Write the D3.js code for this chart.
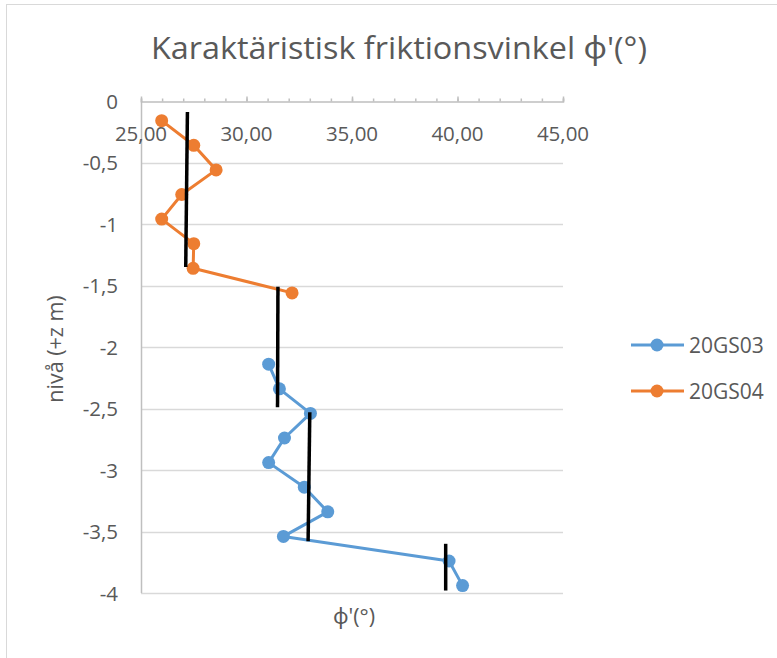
<!DOCTYPE html>
<html>
<head>
<meta charset="utf-8">
<script src="https://cdn.jsdelivr.net/npm/d3@7/dist/d3.min.js"></script>
<style>
  html, body { margin: 0; padding: 0; background: #fff; }
  svg { display: block; font-family: "Open Sans", "Noto Sans", sans-serif; }
</style>
</head>
<body>
<svg id="chart" width="777" height="658"></svg>
<script>
// ---- data ----
const title = "Karaktäristisk friktionsvinkel \u03D5'(°)";
const xTitle = "\u03D5'(°)";
const yTitle = "nivå (+z m)";
const seriesNames = ["20GS03", "20GS04"];
const seriesColors = ["#5B9BD5", "#ED7D31"];

const gs03Phi = [31.05, 31.56, 33.03, 31.80, 31.05, 32.74, 33.85, 31.75, 39.60, 40.24];
const gs03Level = [-2.14, -2.34, -2.54, -2.74, -2.94, -3.14, -3.34, -3.54, -3.74, -3.94];
const gs04Phi = [25.98, 27.50, 28.56, 26.93, 25.98, 27.50, 27.47, 32.16];
const gs04Level = [-0.16, -0.36, -0.56, -0.76, -0.96, -1.16, -1.36, -1.56];

// characteristic value lines (black)
const charPhiTop = [27.20, 31.49, 33.00, 39.44];
const charPhiBottom = [27.12, 31.47, 32.92, 39.44];
const charLevelTop = [-0.09, -1.51, -2.53, -3.60];
const charLevelBottom = [-1.35, -2.49, -3.58, -3.98];

const xTicksMajor = [25, 30, 35, 40, 45];
const xTicksMinor = d3.range(25, 46, 1);
const yTicks = [0, -0.5, -1, -1.5, -2, -2.5, -3, -3.5, -4];

// ---- layout ----
const svg = d3.select("#chart");
const textColor = "#595959";
const gridColor = "#D9D9D9";
const axisColor = "#BFBFBF";

const x = d3.scaleLinear().domain([25, 45]).range([141, 563]);
const y = d3.scaleLinear().domain([0, -4]).range([101, 593]);

const loc = d3.formatLocale({decimal: ",", thousands: " ", grouping: [3], currency: ["", ""], minus: "-"});
const fmtX = loc.format(".2f");
const fmtY = v => (v === 0 ? "0" : loc.format("")(v));

// chart border
svg.append("rect").attr("x", 6.5).attr("y", 4.5).attr("width", 800).attr("height", 700)
  .attr("fill", "none").attr("stroke", gridColor).attr("stroke-width", 1);

// title
svg.append("text").attr("x", 399).attr("y", 59).attr("text-anchor", "middle")
  .attr("font-size", 31).attr("fill", textColor)
  .attr("textLength", 496).attr("lengthAdjust", "spacingAndGlyphs")
  .text(title);

// horizontal gridlines
svg.append("g").selectAll("line").data(yTicks.filter(d => d !== 0)).join("line")
  .attr("x1", x(25)).attr("x2", x(45))
  .attr("y1", d => Math.round(y(d)) + 0.5).attr("y2", d => Math.round(y(d)) + 0.5)
  .attr("stroke", gridColor).attr("stroke-width", 1.5);

// y axis line
svg.append("line").attr("x1", 141.5).attr("x2", 141.5).attr("y1", y(0)).attr("y2", y(-4))
  .attr("stroke", axisColor).attr("stroke-width", 1.5);

// x axis (top) with minor and major ticks
const xAxisMinor = d3.axisTop(x).tickValues(xTicksMinor).tickSize(3).tickFormat("");
const gxMinor = svg.append("g").attr("transform", `translate(0,${Math.round(y(0)) + 0.5})`).call(xAxisMinor);
gxMinor.select(".domain").attr("stroke", axisColor).attr("stroke-width", 1.5);
gxMinor.selectAll(".tick line").attr("stroke", axisColor).attr("stroke-width", 1.5);
const xAxisMajor = d3.axisTop(x).tickValues(xTicksMajor).tickSize(5).tickFormat("");
const gxMajor = svg.append("g").attr("transform", `translate(0,${Math.round(y(0)) + 0.5})`).call(xAxisMajor);
gxMajor.select(".domain").remove();
gxMajor.selectAll(".tick line").attr("stroke", axisColor).attr("stroke-width", 1.5);

// x tick labels (below axis line)
svg.append("g").selectAll("text").data(xTicksMajor).join("text")
  .attr("x", d => x(d)).attr("y", 141).attr("text-anchor", "middle")
  .attr("font-size", 20.5).attr("fill", textColor)
  .text(d => fmtX(d));

// y tick labels
svg.append("g").selectAll("text").data(yTicks).join("text")
  .attr("x", 118).attr("y", d => y(d) + 7.5).attr("text-anchor", "end")
  .attr("font-size", 20.5).attr("fill", textColor)
  .text(d => fmtY(d));

// axis titles
svg.append("text").attr("transform", `translate(63,349) rotate(-90)`)
  .attr("text-anchor", "middle").attr("font-size", 21.5).attr("fill", textColor)
  .text(yTitle);
svg.append("text").attr("x", 354).attr("y", 624).attr("text-anchor", "middle")
  .attr("font-size", 21.5).attr("fill", textColor).text(xTitle);

// series
const series = [
  {name: seriesNames[0], color: seriesColors[0], phi: gs03Phi, level: gs03Level},
  {name: seriesNames[1], color: seriesColors[1], phi: gs04Phi, level: gs04Level}
];
const line = d3.line().x(d => x(d[0])).y(d => y(d[1]));
series.forEach(s => {
  const pts = s.phi.map((p, i) => [p, s.level[i]]);
  svg.append("path").datum(pts).attr("d", line)
    .attr("fill", "none").attr("stroke", s.color).attr("stroke-width", 3).attr("stroke-linejoin", "round");
  svg.append("g").selectAll("circle").data(pts).join("circle")
    .attr("cx", d => x(d[0])).attr("cy", d => y(d[1])).attr("r", 6.5)
    .attr("fill", s.color);
});

// characteristic lines
svg.append("g").selectAll("line").data(charPhiTop.map((p, i) => i)).join("line")
  .attr("x1", i => x(charPhiTop[i])).attr("x2", i => x(charPhiBottom[i]))
  .attr("y1", i => y(charLevelTop[i])).attr("y2", i => y(charLevelBottom[i]))
  .attr("stroke", "#000").attr("stroke-width", 3.5);

// legend
const legendY = [345, 391];
series.forEach((s, i) => {
  const g = svg.append("g");
  g.append("line").attr("x1", 631).attr("x2", 684).attr("y1", legendY[i]).attr("y2", legendY[i])
    .attr("stroke", s.color).attr("stroke-width", 3);
  g.append("circle").attr("cx", 657).attr("cy", legendY[i]).attr("r", 6.5).attr("fill", s.color);
  g.append("text").attr("x", 689).attr("y", legendY[i] + 8).attr("font-size", 21)
    .attr("fill", textColor).text(s.name);
});
</script>
</body>
</html>
